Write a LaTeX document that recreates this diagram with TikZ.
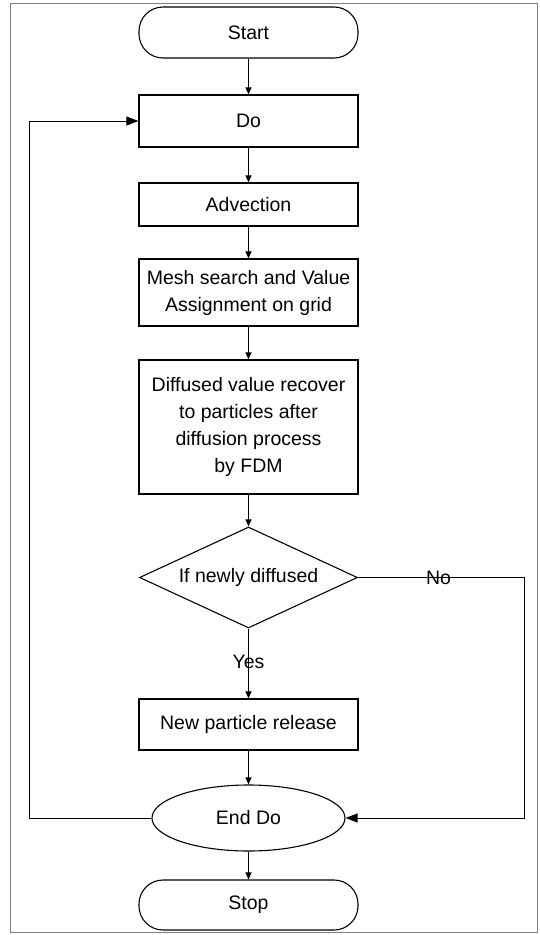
\documentclass[tikz,border=0pt]{standalone}
\usepackage{fontspec}
\setmainfont{Liberation Sans}
\usetikzlibrary{shapes.geometric,arrows.meta}
\begin{document}
\begin{tikzpicture}[x=1pt,y=-1pt,
  every node/.style={font=\fontsize{19.5}{27}\selectfont},
  box/.style={draw,line width=1.1pt,minimum width=219pt,align=center,inner sep=0pt},
  term/.style={box,rounded corners=24pt},
  dec/.style={draw,line width=1.1pt,diamond,aspect=2.16,minimum width=218pt,minimum height=101pt,inner sep=0pt,align=center},
  ell/.style={draw,line width=1.1pt,ellipse,minimum width=193pt,minimum height=66pt,inner sep=0pt},
  arr/.style={line width=1pt,-{Triangle[length=7pt,width=6pt]}},
  bigarr/.style={line width=1pt,-{Triangle[length=12pt,width=9pt]}},
  lbl/.style={inner sep=0pt}
]
\useasboundingbox (0,0) rectangle (540,935);
\draw[gray,line width=0.6pt] (10,3) rectangle (537,932);

\node[term,minimum height=51pt] (start) at (248.5,32.5) {Start};
\node[box,minimum height=52pt] (do) at (248.5,121) {Do};
\node[box,minimum height=43pt] (adv) at (248.5,204.5) {Advection};
\node[box,minimum height=67pt] (mesh) at (248.5,292.5) {Mesh search and Value\\Assignment on grid};
\node[box,minimum height=134pt] (diff) at (248.5,427) {Diffused value recover\\to particles after\\diffusion process\\by FDM};
\node[dec] (if) at (248.5,577.5) {If newly diffused};
\node[box,minimum height=51pt] (rel) at (248.5,724.5) {New particle release};
\node[ell] (enddo) at (248.5,818) {End Do};
\node[term,minimum height=50pt] (stop) at (248.5,905) {Stop};

\coordinate (r) at (524,577.5);
\coordinate (l) at (29,818);

\draw[arr] (start) -- (do);
\draw[arr] (do) -- (adv);
\draw[arr] (adv) -- (mesh);
\draw[arr] (mesh) -- (diff);
\draw[arr] (diff) -- (if);
\draw[arr] (if) -- node[lbl,pos=0.48] (yes) {Yes} (rel);
\draw[bigarr] (if.east) -- node[lbl,pos=0.485] (no) {No} (r) |- (enddo.east);
\draw[arr] (rel) -- (enddo);
\draw[bigarr] (enddo.west) -- (l) |- (do.west);
\draw[arr] (enddo) -- (stop);
\end{tikzpicture}
\end{document}
